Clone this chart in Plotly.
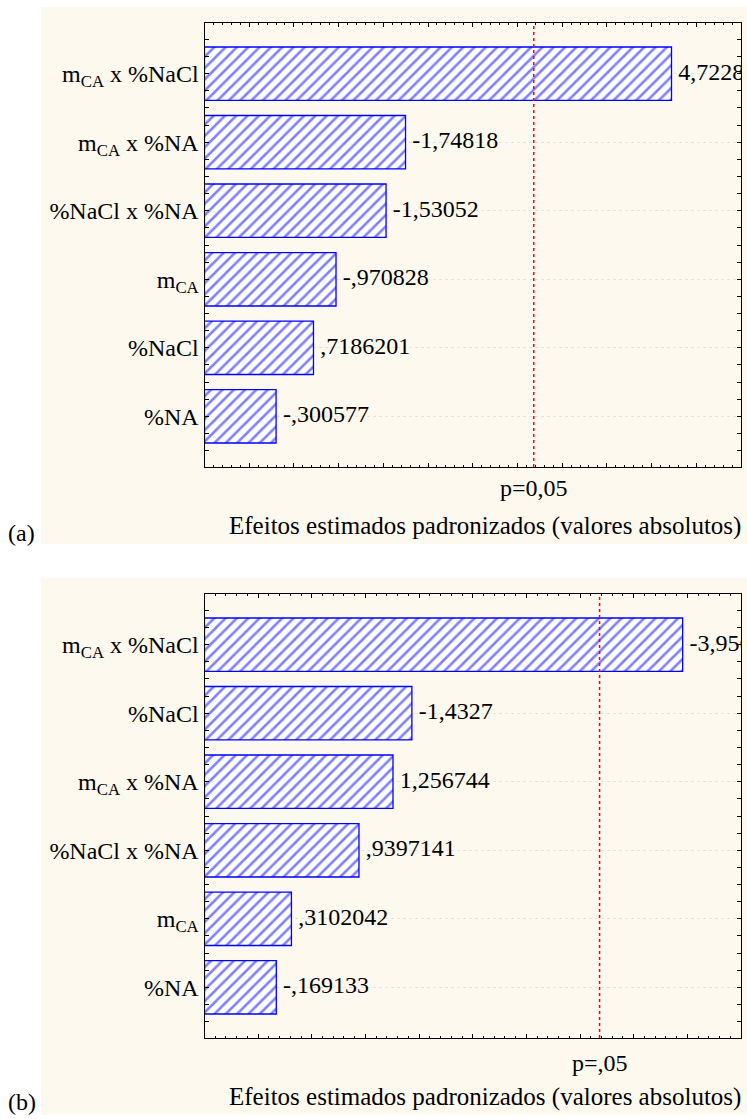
import plotly.graph_objects as go

# Standardized effects (Pareto charts), two experiments
top_terms = ["m<sub>CA</sub> x %NaCl", "m<sub>CA</sub> x %NA", "%NaCl x %NA",
             "m<sub>CA</sub>", "%NaCl", "%NA"]
top_effects = [4.7228, -1.74818, -1.53052, -0.970828, 0.7186201, -0.300577]

bottom_terms = ["m<sub>CA</sub> x %NaCl", "%NaCl", "m<sub>CA</sub> x %NA",
                "%NaCl x %NA", "m<sub>CA</sub>", "%NA"]
bottom_effects = [-3.95619, -1.4327, 1.256744, 0.9397141, 0.3102042, -0.169133]

t_crit = 3.182          # critical value for p = 0.05
p_labels = ["p=0,05", "p=,05"]
panel_tags = ["(a)", "(b)"]
x_title = "Efeitos estimados padronizados (valores absolutos)"
x_ranges = [(-0.5, 5.5), (-0.5, 4.5)]

W, H = 747, 1119
FONT = "Liberation Serif"
FS = 24
BLUE = "#0000FF"
CREAM = "#FDF9EF"


def stat_fmt(v):
    s = format(v, ".7g")
    if abs(v) < 1:
        s = s.replace("0.", ".", 1)
    return s.replace(".", ",")


def px_x(p):
    return p / W


def px_y(p):
    return 1 - p / H


fig = go.Figure()

panels = [
    dict(terms=top_terms, effects=top_effects, ydom=(px_y(467), px_y(23)),
         cream=(7, 544), p_y=488, title_y=526, tag_y=533),
    dict(terms=bottom_terms, effects=bottom_effects, ydom=(px_y(1038), px_y(594)),
         cream=(578, 1115), p_y=1063, title_y=1097, tag_y=1102),
]
xdom = (px_x(204.5), px_x(741))

for i, pnl in enumerate(panels):
    xa = "x" if i == 0 else "x2"
    ya = "y" if i == 0 else "y2"
    xmin, xmax = x_ranges[i]
    pos = list(range(len(pnl["terms"])))
    mags = [abs(v) for v in pnl["effects"]]

    # bars start at the left end of the axis, as in the original software
    fig.add_trace(go.Bar(
        orientation="h", y=pos, x=[m - xmin for m in mags], base=xmin,
        width=0.78, xaxis=xa, yaxis=ya, showlegend=False,
        marker=dict(color="white", line=dict(color=BLUE, width=1.3),
                    pattern=dict(shape="/", fgcolor=BLUE, bgcolor="white",
                                 size=8, solidity=0.32)),
        hoverinfo="skip",
    ))
    fig.add_trace(go.Scatter(
        x=mags, y=pos, mode="text",
        text=["\u2009\u200a" + stat_fmt(v) for v in pnl["effects"]],
        textposition="middle right", textfont=dict(family=FONT, size=FS, color="black"),
        xaxis=xa, yaxis=ya, showlegend=False, cliponaxis=True, hoverinfo="skip",
    ))

    axis_common = dict(showline=True, linecolor="black", linewidth=1, mirror="ticks",
                       ticks="inside", tickcolor="black")
    xaxis = dict(domain=xdom, range=[xmin, xmax], anchor=ya, showgrid=False,
                 zeroline=False, showticklabels=False, tickmode="linear",
                 tick0=0, dtick=0.5, ticklen=4,
                 minor=dict(ticks="inside", tickmode="linear", tick0=0, dtick=0.1,
                            ticklen=2, tickcolor="black", showgrid=False),
                 **axis_common)
    yaxis = dict(domain=pnl["ydom"], range=[len(pos) - 0.26, -0.74], anchor=xa,
                 tickmode="array", tickvals=pos, ticktext=pnl["terms"],
                 showgrid=True, gridcolor="#E4E4E4", griddash="dot", gridwidth=1,
                 zeroline=False, ticklen=4,
                 tickfont=dict(family=FONT, size=FS, color="black"),
                 minor=dict(ticks="inside", tickmode="linear", tick0=0, dtick=0.25,
                            ticklen=4, tickcolor="black", showgrid=False),
                 **axis_common)
    if i == 0:
        fig.update_layout(xaxis=xaxis, yaxis=yaxis)
    else:
        fig.update_layout(xaxis2=xaxis, yaxis2=yaxis)

    # panel background
    fig.add_shape(type="rect", xref="paper", yref="paper",
                  x0=px_x(41), x1=1, y0=px_y(pnl["cream"][1]), y1=px_y(pnl["cream"][0]),
                  fillcolor=CREAM, line=dict(width=0), layer="below")
    # significance threshold
    fig.add_shape(type="line", xref=xa, yref=ya + " domain", x0=t_crit, x1=t_crit,
                  y0=0, y1=1, line=dict(color="#FF0000", width=1.5, dash="dot"))
    fig.add_annotation(x=t_crit, xref=xa, y=px_y(pnl["p_y"]), yref="paper",
                       text=p_labels[i], showarrow=False, xanchor="center", yanchor="middle",
                       font=dict(family=FONT, size=FS, color="black"))
    fig.add_annotation(x=px_x(485), xref="paper", y=px_y(pnl["title_y"]), yref="paper",
                       text=x_title, showarrow=False, xanchor="center", yanchor="middle",
                       font=dict(family=FONT, size=FS + 1, color="black"))
    fig.add_annotation(x=px_x(6), xref="paper", y=px_y(pnl["tag_y"]), yref="paper",
                       text=panel_tags[i], showarrow=False, xanchor="left", yanchor="middle",
                       font=dict(family=FONT, size=FS, color="black"))

fig.update_layout(
    width=W, height=H, margin=dict(l=0, r=0, t=0, b=0),
    paper_bgcolor="white", plot_bgcolor="white",
    font=dict(family=FONT, size=FS, color="black"),
)

fig.write_html("out.html")
